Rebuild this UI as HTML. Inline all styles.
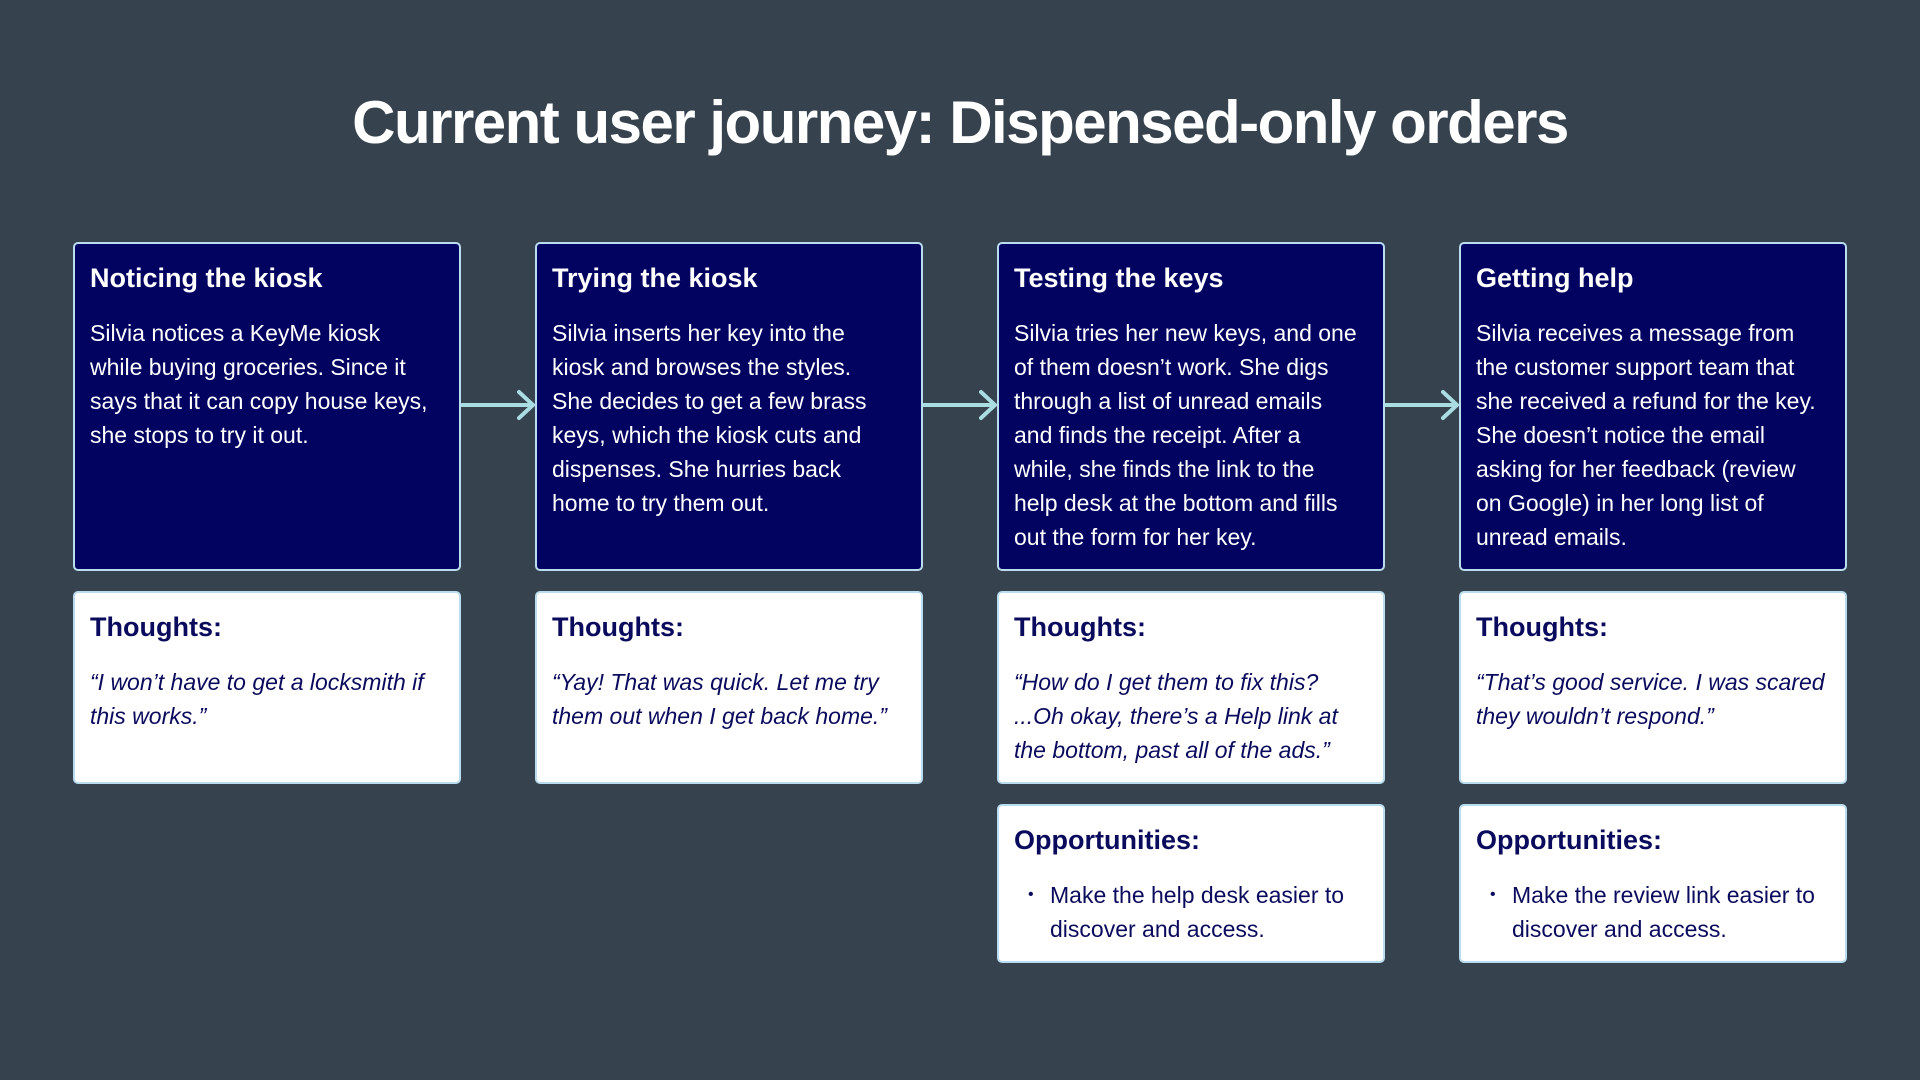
<!DOCTYPE html>
<html><head><meta charset="utf-8"><style>
*{margin:0;padding:0;box-sizing:border-box}
body{width:1920px;height:1080px;background:#36434e;font-family:"Liberation Sans",sans-serif;position:relative;overflow:hidden}
h1{position:absolute;top:88px;left:0;width:1920px;text-align:center;color:#fff;font-size:60px;font-weight:bold;letter-spacing:-1.5px}
.b{position:absolute;width:388px;border:2px solid #b9dcef;border-radius:5px;padding:18px 4px 18px 15px;white-space:nowrap}
.d{background:#020260;color:#fff;top:242px;height:329px}
.w{background:#fff;color:#0b0b5e}
.b h2{font-size:27px;font-weight:bold;margin-bottom:22px;line-height:32px}
.b p{font-size:23px;line-height:34px}
.w p{font-style:italic}
.t{top:591px;height:193px}
.o{top:804px;height:159px}
ul{list-style:none;font-size:23px;line-height:34px;padding-left:14px}
li{position:relative;padding-left:22px}
li:before{content:"•";position:absolute;left:0;font-size:16px}
svg{position:absolute;left:0;top:0}
</style></head><body>
<h1>Current user journey: Dispensed-only orders</h1>
<svg width="1920" height="1080"><g stroke="#a9dde2" stroke-width="4" fill="none" stroke-linecap="round">
<path d="M462 405H532M519 392L533 405L519 418"/>
<path d="M924 405H994M981 392L995 405L981 418"/>
<path d="M1386 405H1456M1443 392L1457 405L1443 418"/>
</g></svg>
<div class="b d" style="left:73px"><h2>Noticing the kiosk</h2><p>Silvia notices a KeyMe kiosk<br>while buying groceries. Since it<br>says that it can copy house keys,<br>she stops to try it out.</p></div>
<div class="b d" style="left:535px"><h2>Trying the kiosk</h2><p>Silvia inserts her key into the<br>kiosk and browses the styles.<br>She decides to get a few brass<br>keys, which the kiosk cuts and<br>dispenses. She hurries back<br>home to try them out.</p></div>
<div class="b d" style="left:997px"><h2>Testing the keys</h2><p>Silvia tries her new keys, and one<br>of them doesn’t work. She digs<br>through a list of unread emails<br>and finds the receipt. After a<br>while, she finds the link to the<br>help desk at the bottom and fills<br>out the form for her key.</p></div>
<div class="b d" style="left:1459px"><h2>Getting help</h2><p>Silvia receives a message from<br>the customer support team that<br>she received a refund for the key.<br>She doesn’t notice the email<br>asking for her feedback (review<br>on Google) in her long list of<br>unread emails.</p></div>
<div class="b w t" style="left:73px"><h2>Thoughts:</h2><p>“I won’t have to get a locksmith if<br>this works.”</p></div>
<div class="b w t" style="left:535px"><h2>Thoughts:</h2><p>“Yay! That was quick. Let me try<br>them out when I get back home.”</p></div>
<div class="b w t" style="left:997px"><h2>Thoughts:</h2><p>“How do I get them to fix this?<br>...Oh okay, there’s a Help link at<br>the bottom, past all of the ads.”</p></div>
<div class="b w t" style="left:1459px"><h2>Thoughts:</h2><p>“That’s good service. I was scared<br>they wouldn’t respond.”</p></div>
<div class="b w o" style="left:997px"><h2>Opportunities:</h2><ul><li>Make the help desk easier to<br>discover and access.</li></ul></div>
<div class="b w o" style="left:1459px"><h2>Opportunities:</h2><ul><li>Make the review link easier to<br>discover and access.</li></ul></div>
</body></html>
